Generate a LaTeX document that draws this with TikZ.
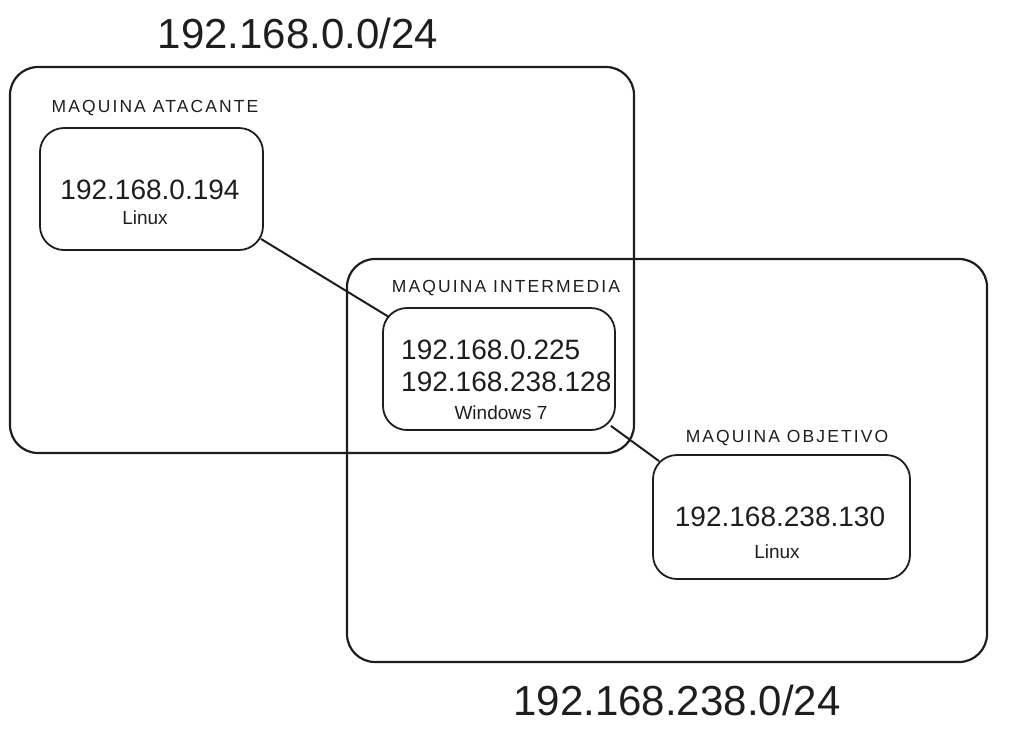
\documentclass[tikz,border=0pt]{standalone}
\usepackage{fontspec}
\setmainfont{Liberation Sans}
\newfontfamily\lblfont[LetterSpace=12]{Liberation Sans}
\definecolor{ink}{HTML}{1E1E1E}
\tikzset{
  net/.style={draw=ink, line width=2.2pt, rounded corners=28pt, inner sep=0pt},
  host/.style={draw=ink, line width=1.8pt, rounded corners=24pt, inner sep=0pt, fill=white},
  title/.style={text=ink, inner sep=0pt, font=\fontsize{42}{50}\selectfont},
  ip/.style={text=ink, inner sep=0pt, font=\fontsize{28}{34}\selectfont},
  os/.style={text=ink, inner sep=0pt, font=\fontsize{19}{23}\selectfont},
  role/.style={text=ink, inner sep=0pt, font=\lblfont\fontsize{17.5}{21}\selectfont},
  link/.style={draw=ink, line width=2pt}
}
\begin{document}
\begin{tikzpicture}[x=1pt, y=-1pt]
\useasboundingbox (0,0) rectangle (1014,734);
% networks
\node[net, minimum width=624pt, minimum height=386pt] (net1) at (322,260) {};
\node[net, minimum width=640pt, minimum height=403pt] (net2) at (667,460.5) {};
\node[title] (t1) at (298,33) {192.168.0.0/24};
\node[title] (t2) at (677,700) {192.168.238.0/24};
% hosts
\node[host, minimum width=223pt, minimum height=122pt] (A) at (151.5,189) {};
\node[host, minimum width=232pt, minimum height=122pt] (B) at (499,369) {};
\node[host, minimum width=257pt, minimum height=124pt] (C) at (781.5,517) {};
% roles
\node[role] (rA) at (155,108) {MAQUINA ATACANTE};
\node[role] (rB) at (506,288) {MAQUINA INTERMEDIA};
\node[role] (rC) at (787,438) {MAQUINA OBJETIVO};
% texts
\node[ip] (ipA) at (150,190) {192.168.0.194};
\node[os] (osA) at (145,218) {Linux};
\node[ip, anchor=west] (ipB1) at (401,350) {192.168.0.225};
\node[ip, anchor=west] (ipB2) at (401,382) {192.168.238.128};
\node[os] (osB) at (501,413) {Windows 7};
\node[ip] (ipC) at (780,517) {192.168.238.130};
\node[os] (osC) at (777,552) {Linux};
% links
\draw[link] ([shift={(-3,-12)}]A.south east) -- ([shift={(7,10)}]B.north west);
\draw[link] ([shift={(-5,-5)}]B.south east) -- ([shift={(7,7)}]C.north west);
\end{tikzpicture}
\end{document}
